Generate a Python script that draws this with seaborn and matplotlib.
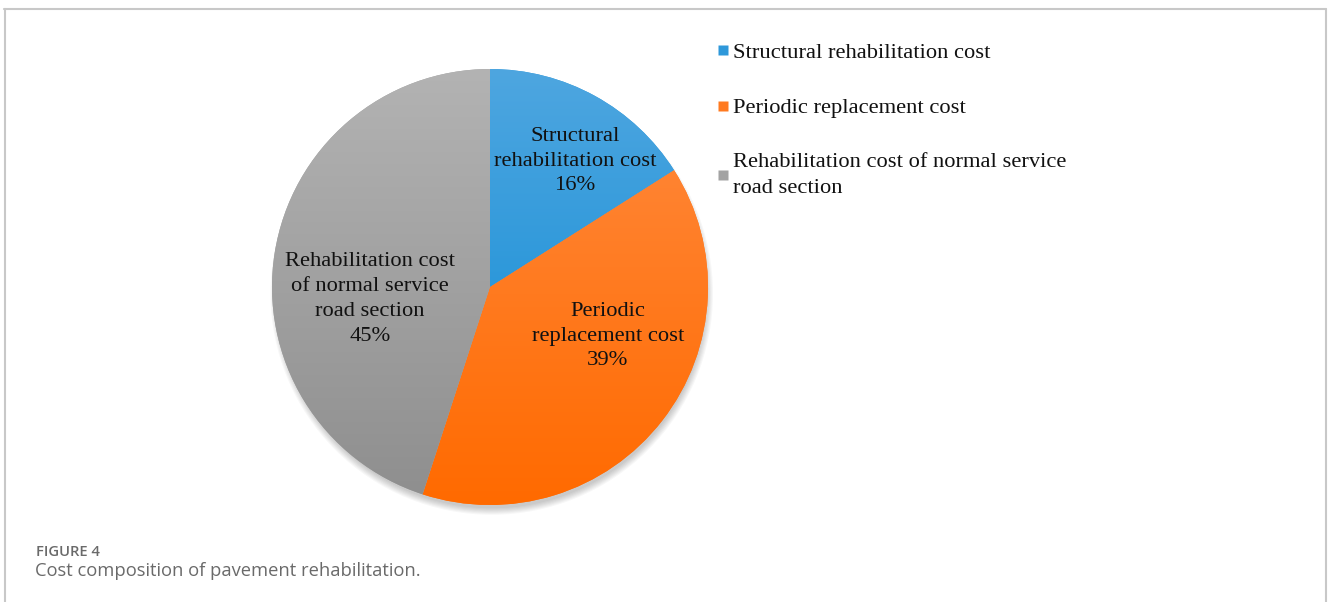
import numpy as np
import matplotlib
matplotlib.use("Agg")
import matplotlib.pyplot as plt
import seaborn as sns
from matplotlib.lines import Line2D
from matplotlib.patches import Circle
from matplotlib.colors import LinearSegmentedColormap

# ---- data ----
categories = ["Structural rehabilitation cost",
              "Periodic replacement cost",
              "Rehabilitation cost of normal service road section"]
legend_labels = ["Structural rehabilitation cost",
                 "Periodic replacement cost",
                 "Rehabilitation cost of normal service\nroad section"]
slice_labels = ["Structural\nrehabilitation cost",
                "Periodic\nreplacement cost",
                "Rehabilitation cost\nof normal service\nroad section"]
shares = [16, 39, 45]
caption_head = "FIGURE 4"
caption_text = "Cost composition of pavement rehabilitation."

# ---- style ----
top_colors = ["#4EA6E0", "#FF8B40", "#B3B3B3"]
bottom_colors = ["#0B8AD4", "#FF6A00", "#8E8E8E"]
mid_colors = ["#2E98DA", "#FF7A20", "#A3A3A3"]

sns.set_theme(style="white")
plt.rcParams["font.family"] = ["Liberation Serif", "DejaVu Serif"]

W, H = 1328, 602
fig = plt.figure(figsize=(W / 100, H / 100), dpi=100)
fig.patch.set_facecolor("white")

# pie axes: center (490, 287) px, radius 218 px
cx, cy, r = 490, 287, 218
ax = fig.add_axes([(cx - r) / W, 1 - (cy + r) / H, 2 * r / W, 2 * r / H])
ax.set_xlim(-1, 1)
ax.set_ylim(-1, 1)
ax.set_aspect("equal")
ax.axis("off")

# soft shadow (mostly below the pie)
for k in range(7):
    ax.add_patch(Circle((0.008, -0.03), 0.985 + 0.005 * k, facecolor="black",
                        alpha=0.03, edgecolor="none", zorder=0.5,
                        clip_on=False))

wedges, _ = ax.pie(shares, colors=mid_colors, startangle=90, counterclock=False,
                   radius=1.0, center=(0, 0), frame=False,
                   wedgeprops=dict(linewidth=0, edgecolor="none"))
ax.set_xlim(-1, 1)
ax.set_ylim(-1, 1)
ax.axis("off")

grad = np.linspace(0, 1, 256).reshape(-1, 1)
for w, tc, bc in zip(wedges, top_colors, bottom_colors):
    cmap = LinearSegmentedColormap.from_list("g", [bc, tc])
    im = ax.imshow(grad, cmap=cmap, extent=(-1, 1, -1, 1), origin="lower",
                   aspect="auto", zorder=2)
    im.set_clip_path(w)

# slice labels (positions given in pixels of the figure, converted to axes fraction)
label_px = [(575, 161), (608, 336), (370, 299)]
for (px, py), lab, s in zip(label_px, slice_labels, shares):
    x = (px - (cx - r)) / (2 * r)
    y = 1 - (py - (cy - r)) / (2 * r)
    ax.text(x, y, f"{lab}\n{s}%", transform=ax.transAxes, ha="center",
            va="center", fontsize=16.2, color="#111111", linespacing=1.42,
            zorder=5)

# legend
handles = [Line2D([], [], marker="s", linestyle="none", markersize=7.5,
                  markerfacecolor=c, markeredgecolor="none") for c in mid_colors]
leg = fig.legend(handles, legend_labels, loc="upper left",
                 bbox_to_anchor=(708 / W, 1 - 33 / H), frameon=False,
                 fontsize=16.2, handlelength=0.5, handletextpad=0.2,
                 labelspacing=1.55, borderaxespad=0)
for t in leg.get_texts():
    t.set_color("#111111")
    t.set_linespacing(1.45)

# border (open at bottom)
bcol = "#c8c8c8"
fig.add_artist(Line2D([4 / W, 1326 / W], [1 - 9 / H, 1 - 9 / H], color=bcol, lw=1.5))
fig.add_artist(Line2D([4.5 / W, 4.5 / W], [0, 1 - 9 / H], color=bcol, lw=1.5))
fig.add_artist(Line2D([1326 / W, 1326 / W], [0, 1 - 9 / H], color=bcol, lw=1.5))

# caption
fig.text(36 / W, 1 - 552 / H, caption_head, ha="left", va="center",
         fontsize=10.6, color="#6a6a6a", fontweight="semibold",
         family=["Open Sans", "DejaVu Sans"])
fig.text(35 / W, 1 - 571 / H, caption_text, ha="left", va="center",
         fontsize=13.2, color="#6a6a6a",
         family=["Open Sans", "DejaVu Sans"])

fig.savefig("out.png", dpi=100)
